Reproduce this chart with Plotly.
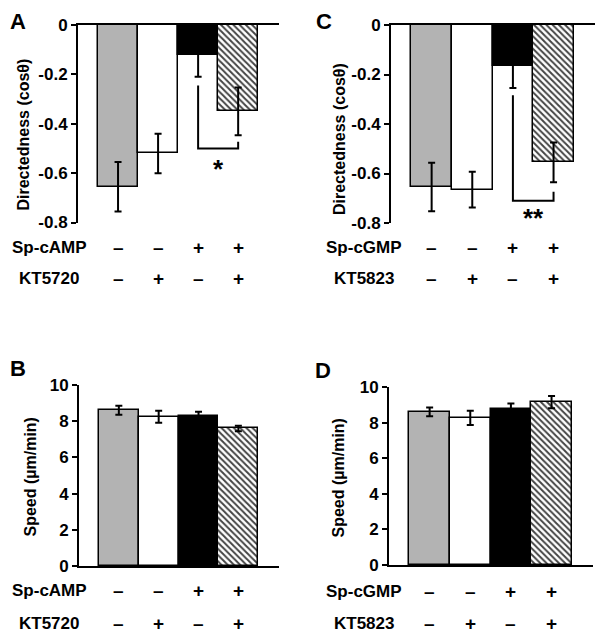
import plotly.graph_objects as go

# page body adds an 8px margin, so the figure is drawn 8px smaller and offset
OFF = 8
W, H = 604 - OFF, 637 - OFF

# ---------------- data ----------------
categories = [0, 1, 2, 3]
bar_colors = ["#b3b3b3", "#ffffff", "#000000", "#ffffff"]
bar_patterns = ["", "", "", "\\"]

dir_camp = [-0.655, -0.52, -0.12, -0.35]
dir_camp_err = [0.10, 0.08, 0.09, 0.097]
dir_cgmp = [-0.655, -0.665, -0.165, -0.555]
dir_cgmp_err = [0.098, 0.072, 0.09, 0.08]

speed_camp = [8.6, 8.25, 8.3, 7.6]
speed_camp_err = [0.25, 0.33, 0.22, 0.15]
speed_cgmp = [8.6, 8.27, 8.75, 9.15]
speed_cgmp_err = [0.25, 0.4, 0.32, 0.35]

dir_ticks = [0, -0.2, -0.4, -0.6, -0.8]
dir_ticktext = ["0", "-0.2", "-0.4", "-0.6", "-0.8"]
speed_ticks = [0, 2, 4, 6, 8, 10]
speed_ticktext = ["0", "2", "4", "6", "8", "10"]

# significance brackets (x in category units, y in data units)
bracket_A_x = [2, 2, 3, 3]
bracket_A_y = [-0.245, -0.50, -0.50, -0.473]
star_A = (2.5, -0.565, "*")
bracket_C_x = [2, 2, 3, 3]
bracket_C_y = [-0.284, -0.71, -0.71, -0.674]
star_C = (2.5, -0.758, "**")

row1_camp = ["–", "–", "+", "+"]
row2_kt5720 = ["–", "+", "–", "+"]
row1_cgmp = ["–", "–", "+", "+"]
row2_kt5823 = ["–", "+", "–", "+"]

FONT = "Liberation Sans, Arial, Helvetica, sans-serif"


def px_x(p):
    return (p - OFF) / W


def px_y(p):
    return 1 - (p - OFF) / H


fig = go.Figure()

panels = [
    ("A", "x", "y", dir_camp, dir_camp_err, (78, 279), (25, 222.5), [-0.8, 0], dir_ticks, dir_ticktext, "top"),
    ("C", "x2", "y2", dir_cgmp, dir_cgmp_err, (391, 595), (25, 223), [-0.8, 0], dir_ticks, dir_ticktext, "top"),
    ("B", "x3", "y3", speed_camp, speed_camp_err, (79, 279), (385, 566), [0, 10], speed_ticks, speed_ticktext, "bottom"),
    ("D", "x4", "y4", speed_cgmp, speed_cgmp_err, (389, 593), (387, 565), [0, 10], speed_ticks, speed_ticktext, "bottom"),
]

layout = dict(
    template="none",
    width=W, height=H,
    margin=dict(l=0, r=0, t=0, b=0, pad=0, autoexpand=False),
    paper_bgcolor="white", plot_bgcolor="white",
    showlegend=False, bargap=0,
    font=dict(family=FONT, color="black"),
)

for name, xa, ya, vals, errs, xd, yd, rng, tv, tt, side in panels:
    fig.add_trace(go.Bar(
        x=categories, y=vals, width=1,
        xaxis=xa, yaxis=ya,
        marker=dict(
            color=bar_colors,
            line=dict(color="black", width=1.5),
            pattern=dict(shape=bar_patterns, fillmode="overlay", fgcolor="black",
                         fgopacity=1, size=4.4, solidity=0.45),
        ),
        error_y=dict(type="data", array=errs, color="black", thickness=2, width=3.5),
    ))
    xkey = "xaxis" if xa == "x" else "xaxis" + xa[1:]
    ykey = "yaxis" if ya == "y" else "yaxis" + ya[1:]
    layout[xkey] = dict(
        domain=[px_x(xd[0]), px_x(xd[1])], range=[-1, 4.02], anchor=ya,
        side=side, showline=True, linecolor="black", linewidth=2,
        showticklabels=False, ticks="", showgrid=False, zeroline=False, automargin=False,
    )
    layout[ykey] = dict(
        domain=[px_y(yd[1]), px_y(yd[0])], range=rng, anchor=xa,
        tickvals=tv, ticktext=tt, ticks="outside", ticklen=5, tickwidth=2,
        tickcolor="black", showline=True, linecolor="black", linewidth=2,
        tickfont=dict(family=FONT, size=17, color="black", weight="bold"),
        showgrid=False, zeroline=False, automargin=False,
    )

# brackets
for bx, by, xa, ya in [(bracket_A_x, bracket_A_y, "x", "y"), (bracket_C_x, bracket_C_y, "x2", "y2")]:
    fig.add_trace(go.Scatter(x=bx, y=by, xaxis=xa, yaxis=ya, mode="lines",
                             line=dict(color="black", width=2), hoverinfo="skip"))

fig.update_layout(**layout)

ann = []
for (sx, sy, st), xa, ya in [(star_A, "x", "y"), (star_C, "x2", "y2")]:
    ann.append(dict(x=sx, y=sy, xref=xa, yref=ya, text="<b>" + st + "</b>", showarrow=False,
                    font=dict(family=FONT, size=26, color="black"), xanchor="center", yanchor="middle",
                    yshift=-5))

# panel letters
for letter, lx, ly, yanc in [("A", 17.5, 8, "top"), ("C", 324, 8, "top"),
                             ("B", 17.5, 368, "middle"), ("D", 323, 370, "middle")]:
    ann.append(dict(x=px_x(lx), y=px_y(ly), xref="paper", yref="paper", text="<b>" + letter + "</b>",
                    showarrow=False, font=dict(family=FONT, size=22, color="black"),
                    xanchor="center", yanchor=yanc, borderpad=0))

# y titles
for txt, tx, ty in [("Directedness (cosθ)", 23, 134.5), ("Directedness (cosθ)", 339, 139),
                    ("Speed (µm/min)", 30, 477.5), ("Speed (µm/min)", 337.5, 478)]:
    ann.append(dict(x=px_x(tx), y=px_y(ty), xref="paper", yref="paper", text="<b>" + txt + "</b>",
                    textangle=-90, showarrow=False, font=dict(family=FONT, size=16, color="black"),
                    xanchor="center", yanchor="middle"))

# treatment rows
rows = [
    ("Sp-cAMP", row1_camp, 49, 247.5, "x"),
    ("KT5720", row2_kt5720, 49, 278.5, "x"),
    ("Sp-cGMP", row1_cgmp, 364, 247.5, "x2"),
    ("KT5823", row2_kt5823, 364, 278.5, "x2"),
    ("Sp-cAMP", row1_camp, 49, 590, "x3"),
    ("KT5720", row2_kt5720, 49, 623, "x3"),
    ("Sp-cGMP", row1_cgmp, 364, 591.5, "x4"),
    ("KT5823", row2_kt5823, 364, 623, "x4"),
]
for label, signs, lx, ly, xa in rows:
    ann.append(dict(x=px_x(lx), y=px_y(ly), xref="paper", yref="paper", text="<b>" + label + "</b>",
                    showarrow=False, font=dict(family=FONT, size=17, color="black"),
                    xanchor="center", yanchor="middle"))
    for c, s in zip(categories, signs):
        ann.append(dict(x=c, y=px_y(ly), xref=xa, yref="paper", text="<b>" + s + "</b>",
                        showarrow=False, font=dict(family=FONT, size=19, color="black"),
                        xanchor="center", yanchor="middle"))

fig.update_layout(annotations=ann)
fig.write_html("out.html")
